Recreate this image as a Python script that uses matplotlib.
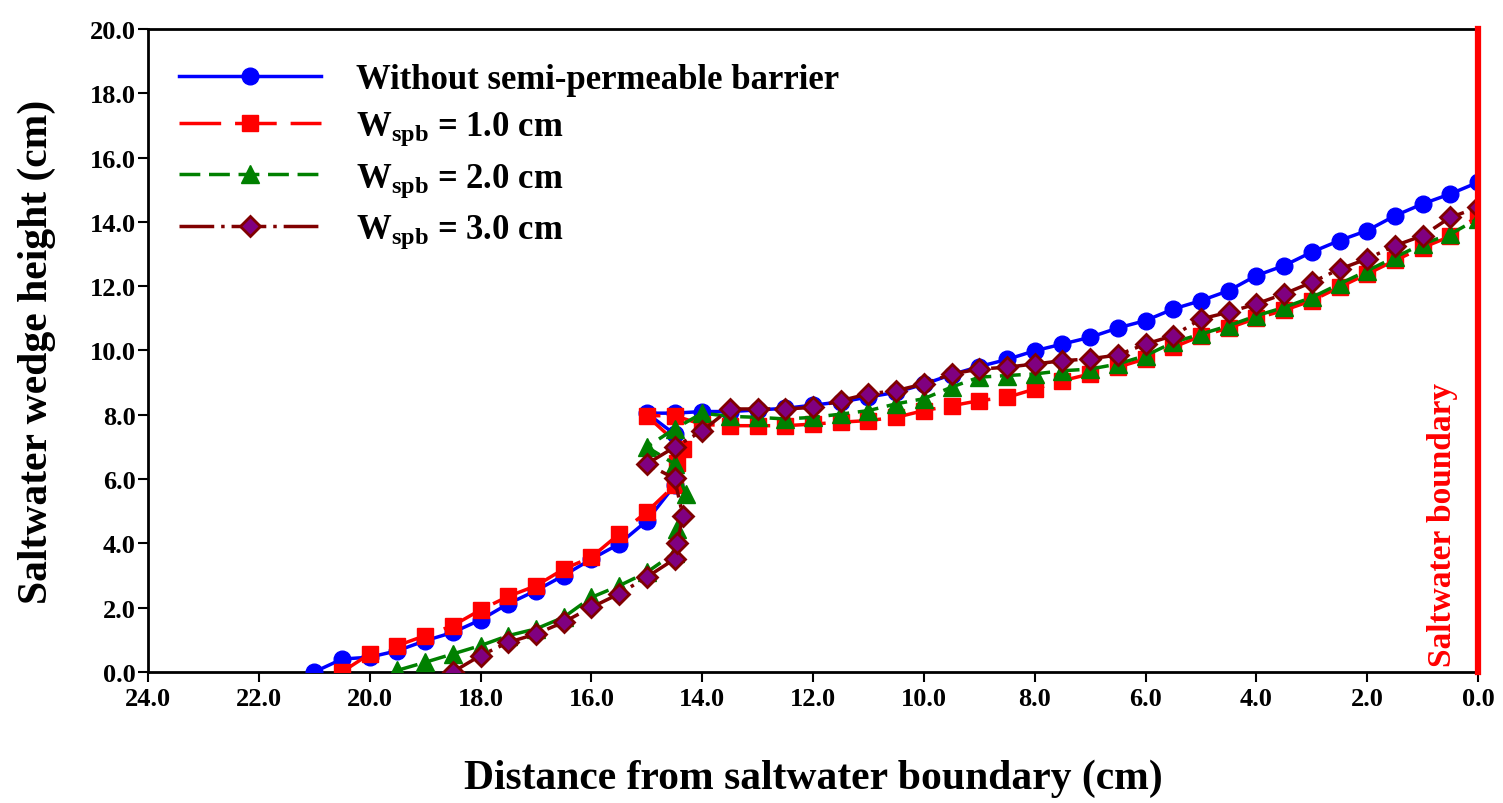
import numpy as np
import matplotlib.pyplot as plt

plt.rcParams["font.family"] = ["Liberation Serif", "DejaVu Serif"]
plt.rcParams["font.weight"] = "bold"
plt.rcParams["mathtext.fontset"] = "custom"
plt.rcParams["mathtext.rm"] = "Liberation Serif:bold"
plt.rcParams["mathtext.bf"] = "Liberation Serif:bold"
plt.rcParams["mathtext.it"] = "Liberation Serif:bold"

# Without semi-permeable barrier
x_none = [21, 20.5, 20, 19.5, 19, 18.5, 18, 17.5, 17, 16.5, 16, 15.5, 15,
          14.5, 14.5, 15, 14.5, 14,
          13.5, 13, 12.5, 12, 11.5, 11, 10.5, 10, 9.5, 9, 8.5, 8, 7.5, 7,
          6.5, 6, 5.5, 5, 4.5, 4, 3.5, 3, 2.5, 2, 1.5, 1, 0.5, 0]
y_none = [0, 0.4, 0.46, 0.66, 0.97, 1.23, 1.62, 2.12, 2.53, 3.0, 3.51, 3.98, 4.7,
          5.8, 7.4, 8.05, 8.05, 8.1,
          8.1, 8.15, 8.2, 8.3, 8.4, 8.55, 8.7, 8.95,
          9.25, 9.5, 9.72, 9.99, 10.2, 10.41, 10.7, 10.93,
          11.29, 11.55, 11.86, 12.33, 12.64, 13.06, 13.42, 13.73,
          14.19, 14.56, 14.87, 15.23]

# W_spb = 1.0 cm
x_w1 = [20.5, 20, 19.5, 19, 18.5, 18, 17.5, 17, 16.5, 16, 15.5, 15,
        14.5, 14.45, 14.35, 15, 14.5, 14,
        13.5, 13, 12.5, 12, 11.5, 11, 10.5, 10, 9.5, 9, 8.5, 8, 7.5, 7,
        6.5, 6, 5.5, 5, 4.5, 4, 3.5, 3, 2.5, 2, 1.5, 1, 0.5, 0]
y_w1 = [0, 0.56, 0.82, 1.13, 1.44, 1.93, 2.35, 2.68, 3.2, 3.57, 4.29, 4.98,
        5.8, 6.5, 6.95, 7.97, 7.97, 7.7,
        7.66, 7.66, 7.66, 7.71, 7.77, 7.82, 7.92, 8.13,
        8.28, 8.44, 8.54, 8.8, 9.06, 9.27, 9.48, 9.74,
        10.1, 10.45, 10.7, 11.0, 11.25, 11.55, 11.97, 12.38,
        12.8, 13.2, 13.55, 14.2]

# W_spb = 2.0 cm
x_w2 = [19.5, 19, 18.5, 18, 17.5, 17, 16.5, 16, 15.5, 15,
        14.5, 14.45, 14.3, 14.5, 15, 14.5, 14,
        13.5, 13, 12.5, 12, 11.5, 11, 10.5, 10, 9.5, 9, 8.5, 8, 7.5, 7,
        6.5, 6, 5.5, 5, 4.5, 4, 3.5, 3, 2.5, 2, 1.5, 1, 0.5, 0]
y_w2 = [0.05, 0.3, 0.56, 0.82, 1.13, 1.34, 1.7, 2.32, 2.68, 3.1,
        3.7, 4.45, 5.55, 6.47, 7.0, 7.56, 8.05,
        7.95, 7.92, 7.87, 7.92, 8.02, 8.13, 8.34, 8.5,
        8.86, 9.17, 9.22, 9.27, 9.37, 9.42, 9.58, 9.84,
        10.25, 10.51, 10.77, 11.08, 11.34, 11.65, 12.07, 12.48,
        12.9, 13.31, 13.62, 14.1]

# W_spb = 3.0 cm
x_w3 = [18.5, 18, 17.5, 17, 16.5, 16, 15.5, 15,
        14.5, 14.45, 14.35, 14.5, 15, 14.5, 14,
        13.5, 13, 12.5, 12, 11.5, 11, 10.5, 10, 9.5, 9, 8.5, 8, 7.5, 7,
        6.5, 6, 5.5, 5, 4.5, 4, 3.5, 3, 2.5, 2, 1.5, 1, 0.5, 0]
y_w3 = [0, 0.51, 0.92, 1.18, 1.55, 2.01, 2.43, 2.95,
        3.51, 4.01, 4.86, 6.02, 6.47, 6.99, 7.5,
        8.18, 8.18, 8.18, 8.23, 8.44, 8.65, 8.75, 8.96,
        9.27, 9.42, 9.48, 9.58, 9.68, 9.74, 9.86,
        10.2, 10.46, 10.98, 11.19, 11.45, 11.76,
        12.12, 12.53, 12.85, 13.26, 13.57, 14.14, 14.45]

labels = ["Without semi-permeable barrier",
          r"$\mathbf{W}_{\mathbf{spb}}$ = 1.0 cm",
          r"$\mathbf{W}_{\mathbf{spb}}$ = 2.0 cm",
          r"$\mathbf{W}_{\mathbf{spb}}$ = 3.0 cm"]

fig = plt.figure(figsize=(15.03, 8.04), dpi=100)
ax = fig.add_axes([0.0985, 0.163, 0.8849, 0.7997])

ax.plot(x_none, y_none, color="blue", lw=2.5, marker="o", ms=12,
        label=labels[0], zorder=3)
ax.plot(x_w1, y_w1, color="red", lw=2.5, dashes=(12, 4), marker="s", ms=11.5,
        label=labels[1], zorder=4)
ax.plot(x_w2, y_w2, color="green", lw=2.5, dashes=(6, 2.5), marker="^", ms=12.5,
        label=labels[2], zorder=5)
ax.plot(x_w3, y_w3, color="#800000", lw=2.5, dashes=(10, 2, 1, 2), marker="D",
        ms=10.5, mfc="#800080", mec="#800000", mew=2, label=labels[3], zorder=6)

# saltwater boundary
ax.axvline(0, color="red", lw=4.5, zorder=7, clip_on=False)
ax.text(0.65, 4.6, "Saltwater boundary", color="red", rotation=90,
        ha="center", va="center", fontsize=24, fontweight="bold")

ax.set_xlim(24, 0)
ax.set_ylim(0, 20)
ax.set_xticks(np.arange(24, -1, -2))
ax.set_yticks(np.arange(0, 21, 2))
ax.xaxis.set_major_formatter(plt.FormatStrFormatter("%.1f"))
ax.yaxis.set_major_formatter(plt.FormatStrFormatter("%.1f"))
ax.tick_params(direction="out", length=7, width=1.5, labelsize=19)
ax.tick_params(axis="y", pad=2)
for lab in ax.get_xticklabels() + ax.get_yticklabels():
    lab.set_fontweight("bold")
for s in ["left", "bottom", "top"]:
    ax.spines[s].set_linewidth(2)
ax.spines["right"].set_visible(False)

ax.set_xlabel("Distance from saltwater boundary (cm)", fontsize=30,
              fontweight="bold", labelpad=35)
ax.set_ylabel("Saltwater wedge height (cm)", fontsize=30, fontweight="bold",
              labelpad=24)

ax.legend(loc="upper left", bbox_to_anchor=(0.005, 0.985), frameon=False,
          fontsize=25, handlelength=4.1, handletextpad=1.0, labelspacing=0.4,
          borderaxespad=0.3)

fig.savefig("out.png", dpi=100)
